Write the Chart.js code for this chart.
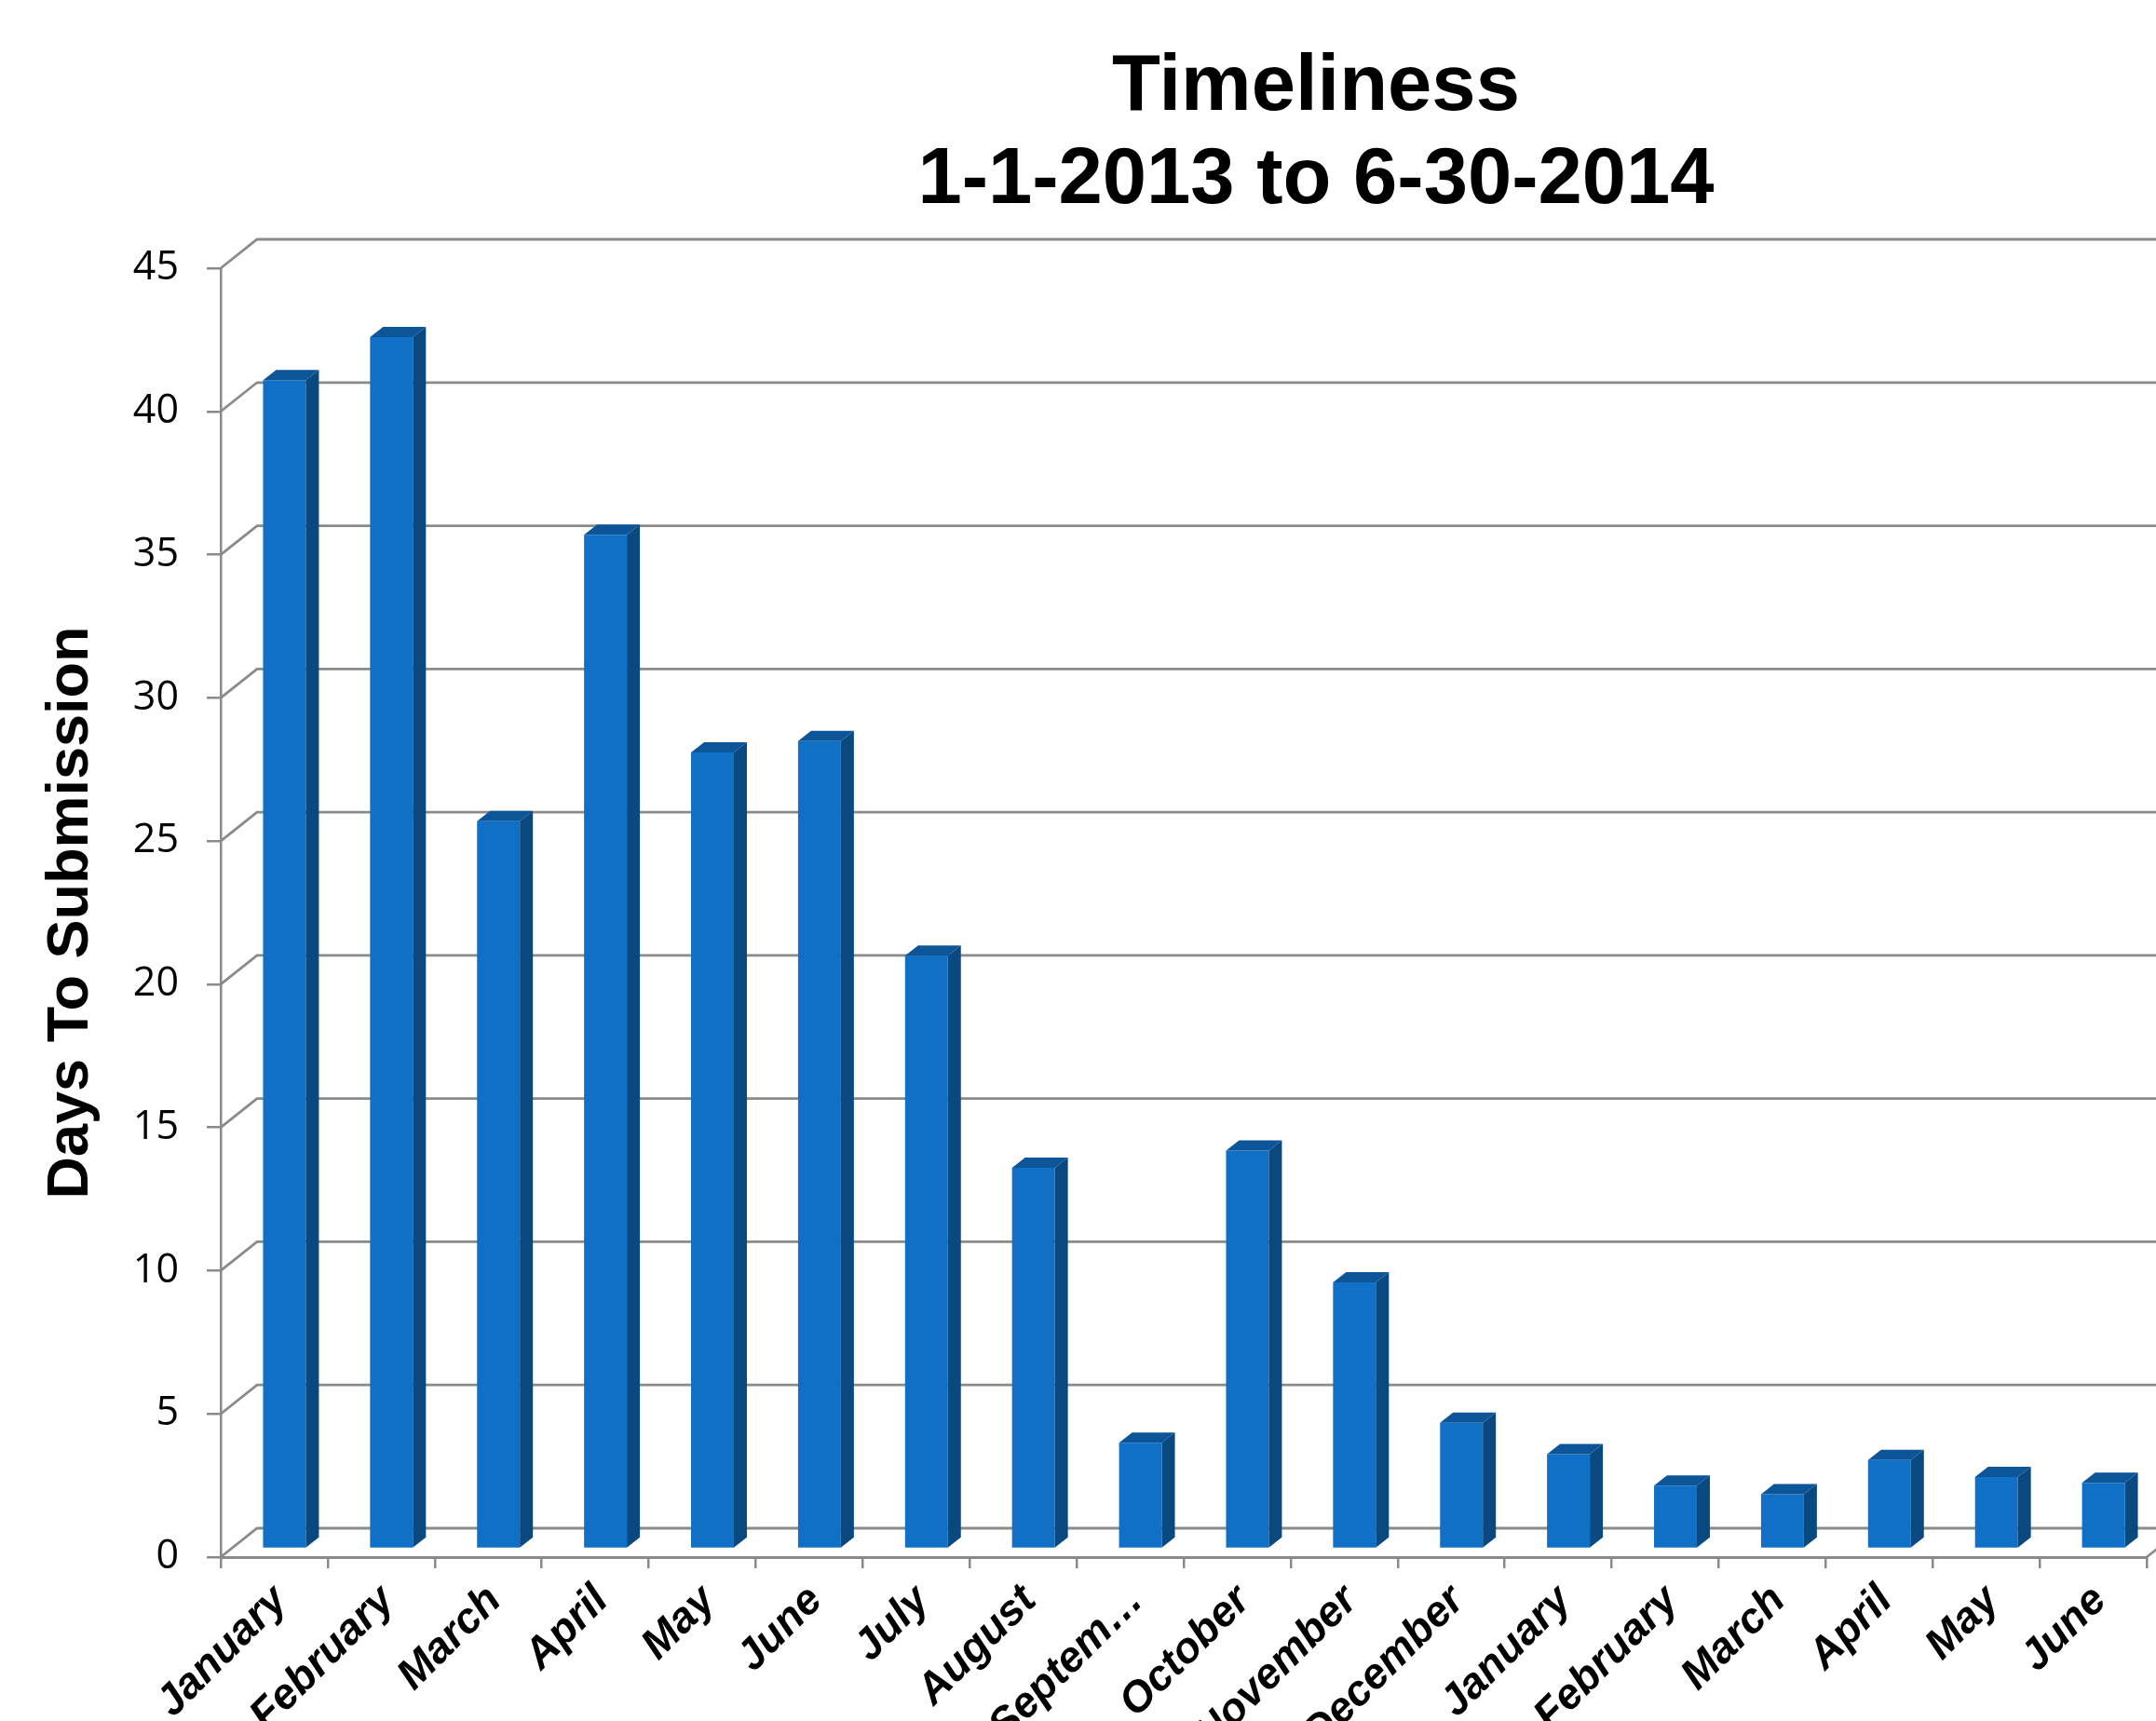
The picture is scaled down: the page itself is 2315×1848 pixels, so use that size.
<!DOCTYPE html>
<html>
<head>
<meta charset="utf-8">
<title>Timeliness</title>
<script src="https://cdn.jsdelivr.net/npm/chart.js@4.4.1/dist/chart.umd.min.js"></script>
<style>
  html, body { margin: 0; padding: 0; overflow: hidden; background: #fff; }
  canvas { display: block; }
</style>
</head>
<body>
<canvas id="timeliness" width="2826" height="1848"></canvas>
<script>
var months = ['January', 'February', 'March', 'April', 'May', 'June', 'July', 'August', 'Septem…',
              'October', 'November', 'December', 'January', 'February', 'March', 'April', 'May', 'June'];
var days = [40.8, 42.3, 25.4, 35.4, 27.8, 28.2, 20.7, 13.3, 3.7, 13.9, 9.3, 4.4, 3.3, 2.2, 1.9, 3.1, 2.5, 2.3];
var titleLines = ['Timeliness', '1-1-2013 to 6-30-2014'];
var yTitle = 'Days To Submission';
var yTicks = { min: 0, max: 45, step: 5 };

// fake 3d: back wall offset and column depth
var wallDx = 39, wallDy = -31;
var barShiftX = 11, barShiftY = -9;
var barDepthX = 14, barDepthY = -11;
var gridColor = '#8a8a8a';
var frontColor = '#1070c6';
var sideColor = '#0a4880';
var topColor = '#0b5598';

var box3d = {
  id: 'box3d',
  beforeDatasetsDraw: function (chart) {
    var ctx = chart.ctx, area = chart.chartArea, y = chart.scales.y;
    ctx.save();
    ctx.strokeStyle = gridColor;
    ctx.lineWidth = 2.8;
    // wall gridlines, with the slanted piece on the left wall
    y.ticks.forEach(function (t) {
      var py = y.getPixelForValue(t.value);
      ctx.beginPath();
      ctx.moveTo(area.left, py);
      ctx.lineTo(area.left + wallDx, py + wallDy);
      ctx.lineTo(area.right + wallDx + 200, py + wallDy);
      ctx.stroke();
    });
    // right edge of the floor
    ctx.beginPath();
    ctx.moveTo(area.right, area.bottom);
    ctx.lineTo(area.right + wallDx, area.bottom + wallDy);
    ctx.stroke();
    ctx.restore();

    // columns sit a little behind the front plane
    ctx.save();
    ctx.translate(barShiftX, barShiftY);
  },
  afterDatasetsDraw: function (chart) {
    var ctx = chart.ctx;
    chart.getDatasetMeta(0).data.forEach(function (bar) {
      var p = bar.getProps(['x', 'y', 'base', 'width'], true);
      var l = p.x - p.width / 2, r = p.x + p.width / 2;
      ctx.fillStyle = topColor;
      ctx.beginPath();
      ctx.moveTo(l, p.y);
      ctx.lineTo(l + barDepthX, p.y + barDepthY);
      ctx.lineTo(r + barDepthX, p.y + barDepthY);
      ctx.lineTo(r, p.y);
      ctx.closePath();
      ctx.fill();
      ctx.fillStyle = sideColor;
      ctx.beginPath();
      ctx.moveTo(r, p.y);
      ctx.lineTo(r + barDepthX, p.y + barDepthY);
      ctx.lineTo(r + barDepthX, p.base + barDepthY);
      ctx.lineTo(r, p.base);
      ctx.closePath();
      ctx.fill();
    });
    ctx.restore();
  }
};

Chart.defaults.font.family = '"Liberation Sans", Arial, sans-serif';
Chart.defaults.color = '#000';

new Chart(document.getElementById('timeliness').getContext('2d'), {
  type: 'bar',
  data: {
    labels: months,
    datasets: [{
      data: days,
      backgroundColor: frontColor,
      borderWidth: 0,
      barPercentage: 0.4,
      categoryPercentage: 1.0
    }]
  },
  options: {
    responsive: false,
    animation: false,
    layout: { padding: 0 },
    plugins: {
      legend: { display: false },
      tooltip: { enabled: false },
      title: {
        display: true,
        text: titleLines,
        color: '#000',
        font: { size: 85, weight: 'bold', lineHeight: 100 / 85 },
        padding: { top: 45, bottom: 43 }
      }
    },
    scales: {
      x: {
        ticks: {
          autoSkip: false,
          minRotation: 45,
          maxRotation: 45,
          padding: 8,
          labelOffset: 7,
          font: { size: 46, weight: 'bold', style: 'italic' }
        },
        grid: { offset: true, drawOnChartArea: false, tickLength: 12, color: gridColor, lineWidth: 2.5 },
        border: { display: true, color: gridColor, width: 3 },
        afterFit: function (s) { s.height = 176; }
      },
      y: {
        min: yTicks.min,
        max: yTicks.max,
        ticks: {
          stepSize: yTicks.step,
          padding: 30,
          font: { family: '"Open Sans", sans-serif', size: 43 }
        },
        grid: { drawOnChartArea: false, tickLength: 15, color: gridColor, lineWidth: 2.5 },
        border: { display: true, color: gridColor, width: 2.5 },
        title: {
          display: true,
          text: yTitle,
          color: '#000',
          font: { size: 63, weight: 'bold' },
          padding: { top: 39, bottom: 0 }
        },
        afterFit: function (s) { s.width = 237; }
      },
      // empty right-hand axis, only reserves room past the floor edge
      yRight: {
        position: 'right',
        min: yTicks.min,
        max: yTicks.max,
        ticks: { display: false },
        grid: { display: false },
        border: { display: false },
        afterFit: function (s) { s.width = 521; }
      }
    }
  },
  plugins: [box3d]
});
</script>
</body>
</html>
